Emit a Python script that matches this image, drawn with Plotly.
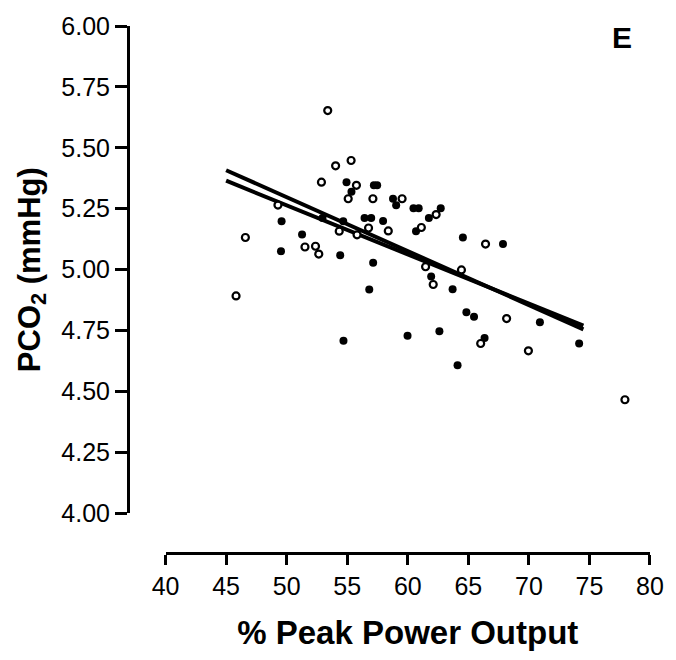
import plotly.graph_objects as go

# ---- data ----
open_x = [53.39, 55.32, 54.04, 52.87, 55.76, 55.08, 57.12, 59.53, 49.28, 56.76,
          58.39, 54.34, 55.81, 46.59, 51.51, 52.38, 52.65, 45.82, 62.34, 61.12,
          66.42, 61.47, 64.43, 62.10, 68.16, 66.02, 69.96, 77.93]
open_y = [5.653, 5.448, 5.426, 5.359, 5.346, 5.291, 5.291, 5.291, 5.265, 5.171,
          5.159, 5.158, 5.143, 5.132, 5.093, 5.096, 5.064, 4.892, 5.226, 5.173,
          5.105, 5.012, 4.999, 4.939, 4.799, 4.697, 4.667, 4.466]

filled_x = [54.94, 57.20, 57.47, 55.35, 58.78, 59.04, 60.47, 60.90, 62.72, 61.74,
            60.68, 49.58, 52.96, 54.67, 56.43, 56.98, 57.96, 51.27, 49.53, 54.42,
            57.14, 56.82, 54.69, 59.98, 64.55, 67.86, 61.93, 63.70, 64.84, 65.47,
            70.91, 62.61, 66.34, 74.15, 64.11]
filled_y = [5.359, 5.346, 5.346, 5.320, 5.291, 5.264, 5.252, 5.252, 5.252, 5.212,
            5.158, 5.199, 5.212, 5.199, 5.212, 5.212, 5.200, 5.144, 5.076, 5.059,
            5.028, 4.919, 4.708, 4.729, 5.132, 5.105, 4.972, 4.920, 4.825, 4.807,
            4.784, 4.747, 4.719, 4.697, 4.608]

fit_x = [45.0, 74.5]
fit_open_y = [5.408, 4.755]
fit_filled_y = [5.365, 4.770]

x_ticks = [40, 45, 50, 55, 60, 65, 70, 75, 80]
y_ticks = [4.00, 4.25, 4.50, 4.75, 5.00, 5.25, 5.50, 5.75, 6.00]

x_title = "<b>% Peak Power Output</b>"
y_title = "<b>PCO<sub>2</sub> (mmHg)</b>"
panel_label = "<b>E</b>"

FONT = "Arial, Liberation Sans, sans-serif"

ML, MR, MT, MB = 128, 20, 22, 107
WIDTH, HEIGHT = 676, 660
PW = WIDTH - ML - MR
PH = HEIGHT - MT - MB

fig = go.Figure()
fig.add_trace(go.Scatter(x=fit_x, y=fit_open_y, mode="lines",
                         line=dict(color="black", width=4), showlegend=False))
fig.add_trace(go.Scatter(x=fit_x, y=fit_filled_y, mode="lines",
                         line=dict(color="black", width=4), showlegend=False))
fig.add_trace(go.Scatter(x=filled_x, y=filled_y, mode="markers",
                         marker=dict(size=8, color="black", line=dict(width=0)),
                         showlegend=False, cliponaxis=False))
fig.add_trace(go.Scatter(x=open_x, y=open_y, mode="markers",
                         marker=dict(size=7, color="white", line=dict(color="black", width=2.2)),
                         showlegend=False, cliponaxis=False))

fig.update_layout(
    width=WIDTH, height=HEIGHT,
    margin=dict(l=ML, r=MR, t=MT, b=MB),
    paper_bgcolor="white", plot_bgcolor="white",
    font=dict(family=FONT, color="black"),
    xaxis=dict(range=[40, 80], domain=[38 / PW, 1.0], anchor="free", position=0,
               tickmode="array", tickvals=x_ticks, ticktext=[str(v) for v in x_ticks],
               showline=True, linecolor="black", linewidth=3,
               ticks="outside", ticklen=10, tickwidth=3, tickcolor="black",
               showgrid=False, zeroline=False,
               tickfont=dict(size=25, family=FONT),
               title=dict(text=x_title, font=dict(size=33, family=FONT), standoff=21)),
    yaxis=dict(range=[4, 6], domain=[40 / PH, 1.0], anchor="free", position=0,
               tickmode="array", tickvals=y_ticks, ticktext=[f"{v:.2f}" for v in y_ticks],
               showline=True, linecolor="black", linewidth=3,
               ticks="outside", ticklen=12, tickwidth=3, tickcolor="black",
               showgrid=False, zeroline=False,
               tickfont=dict(size=25, family=FONT),
               title=dict(text=y_title, font=dict(size=31, family=FONT), standoff=10)),
    annotations=[dict(text=panel_label, x=(628 - ML) / PW, y=(HEIGHT - MB - 34) / PH,
                      xref="paper", yref="paper", xanchor="center", yanchor="middle",
                      showarrow=False, font=dict(size=30, family=FONT))],
)

fig.write_html("out.html")
